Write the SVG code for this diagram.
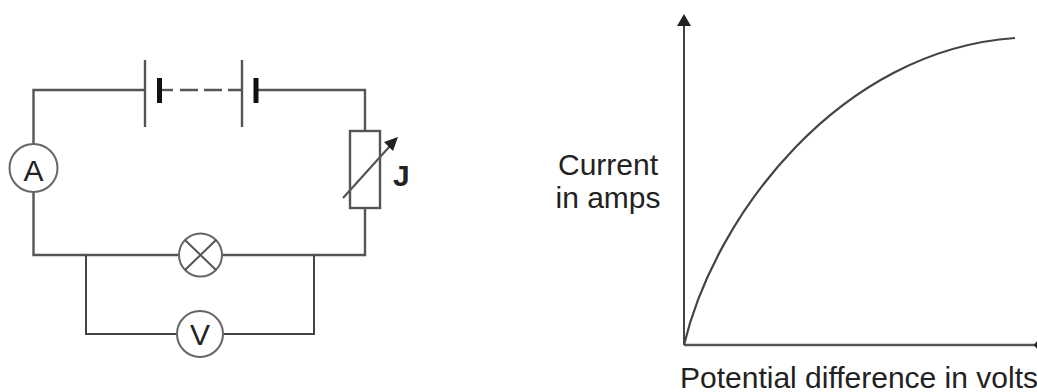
<svg xmlns="http://www.w3.org/2000/svg" width="1037" height="392" viewBox="0 0 1037 392">
<style>
.w{fill:none;stroke:#555;stroke-width:2.4}
.t{fill:none;stroke:#444;stroke-width:2}
.c{fill:#fff;stroke:#666;stroke-width:2}
text{font-family:"Liberation Sans",Arial,sans-serif;fill:#222}
</style>
<rect width="1037" height="392" fill="#fff"/>
<g id="connectors">
<path class="w" d="M145 90H33.5V144M33.5 192V255H179M222 255H365V208M365 130V90H256"/>
<path class="t" d="M86 255V334H177M223 334H314V255"/>
<path class="w" d="M159 90H173"/>
<path class="w" stroke-dasharray="18 6" d="M180 90H242"/>
</g>
<g id="battery-1">
<path class="w" d="M145 60V127"/>
<path d="M159.500 78V103" fill="none" stroke="#111" stroke-width="5"/>
</g>
<g id="battery-2">
<path class="w" d="M242 60V127"/>
<path d="M256 78V103" fill="none" stroke="#111" stroke-width="5"/>
</g>
<g id="ammeter">
<circle class="c" cx="33.500" cy="168" r="24"/>
<text x="33.500" y="181" font-size="30" text-anchor="middle">A</text>
</g>
<g id="resistor-J">
<rect class="w" x="350" y="131" width="30" height="77" fill="#fff"/>
<path d="M343 198L390 146" fill="none" stroke="#555" stroke-width="2.2"/>
<path d="M398 137L393 151L384 142Z" fill="#222"/>
<text x="393" y="186" font-size="30" font-weight="700">J</text>
</g>
<g id="lamp">
<circle class="c" cx="200.500" cy="255" r="21.500"/>
<path d="M185 240L216 270M216 240L185 270" fill="none" stroke="#555" stroke-width="2"/>
</g>
<g id="voltmeter">
<circle class="c" cx="200" cy="334" r="23"/>
<text x="200" y="345" font-size="30" text-anchor="middle">V</text>
</g>
<g id="graph">
<path class="t" d="M684 345V25" stroke-width="2.400"/>
<path d="M684 14L691 26H677Z" fill="#222"/>
<path class="w" d="M684 345H1037"/>
<path d="M1034 345L1037 341V349Z" fill="#222"/>
<path d="M684 345C715 215 840 50 1015 38" fill="none" stroke="#444" stroke-width="2.200"/>
<text x="608" y="175" font-size="30" text-anchor="middle">Current</text>
<text x="608" y="208" font-size="30" text-anchor="middle">in amps</text>
<text x="680" y="388" font-size="30">Potential difference in volts</text>
</g>
</svg>
